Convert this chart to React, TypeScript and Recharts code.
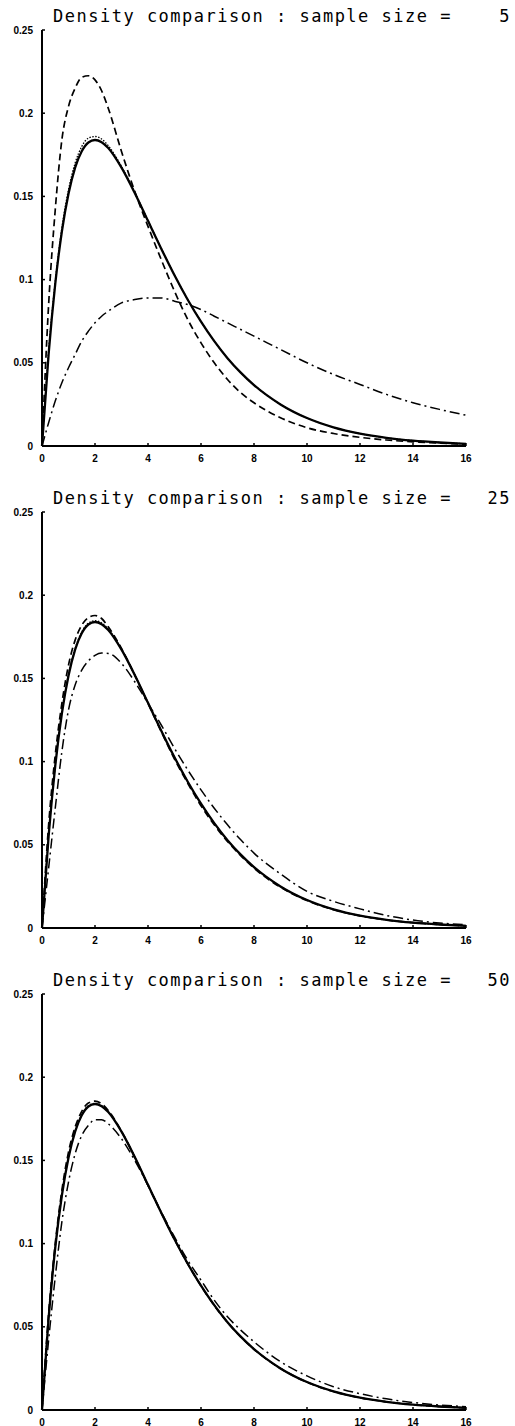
import React from 'react';
import { LineChart, Line, XAxis, YAxis } from 'recharts';

// shared x grid
const xValues = [0, 0.25, 0.5, 0.75, 1, 1.25, 1.5, 1.75, 2, 2.25, 2.5, 3, 3.5, 4, 4.5, 5, 5.5, 6, 6.5, 7, 7.5, 8, 9, 10, 11, 12, 13, 14, 15, 16];

// true density (solid), same in every panel
const trueDensity = [0, 0.0552, 0.0974, 0.1289, 0.1516, 0.1673, 0.1771, 0.1824, 0.1839, 0.1826, 0.1791, 0.1673, 0.1521, 0.1353, 0.1186, 0.1026, 0.0879, 0.0747, 0.063, 0.0528, 0.0441, 0.0366, 0.025, 0.0168, 0.0112, 0.0074, 0.0049, 0.0032, 0.0021, 0.0013];

// sample size 5
const n5Dotted = [0, 0.057, 0.099, 0.131, 0.154, 0.17, 0.18, 0.185, 0.186, 0.1845, 0.1805, 0.168, 0.1525, 0.1355, 0.1188, 0.1027, 0.088, 0.0748, 0.0631, 0.0528, 0.0441, 0.0366, 0.025, 0.0168, 0.0112, 0.0074, 0.0049, 0.0032, 0.0021, 0.0013];
const n5Dashed = [0, 0.085, 0.142, 0.184, 0.204, 0.215, 0.2215, 0.2225, 0.22, 0.2135, 0.203, 0.177, 0.153, 0.132, 0.112, 0.093, 0.076, 0.062, 0.05, 0.04, 0.032, 0.026, 0.017, 0.011, 0.0075, 0.0052, 0.0036, 0.0025, 0.0017, 0.0011];
const n5DashDot = [0, 0.014, 0.027, 0.038, 0.047, 0.055, 0.063, 0.069, 0.074, 0.078, 0.081, 0.086, 0.088, 0.089, 0.089, 0.087, 0.085, 0.082, 0.078, 0.074, 0.07, 0.066, 0.058, 0.05, 0.043, 0.037, 0.031, 0.026, 0.022, 0.0185];

// sample size 25
const n25Dotted = [0, 0.056, 0.098, 0.13, 0.1525, 0.168, 0.178, 0.1832, 0.1847, 0.1833, 0.1797, 0.1676, 0.1522, 0.1353, 0.1186, 0.1026, 0.0879, 0.0747, 0.063, 0.0528, 0.0441, 0.0366, 0.025, 0.0168, 0.0112, 0.0074, 0.0049, 0.0032, 0.0021, 0.0013];
const n25Dashed = [0, 0.062, 0.104, 0.135, 0.158, 0.173, 0.182, 0.1865, 0.1878, 0.186, 0.181, 0.168, 0.152, 0.135, 0.118, 0.1015, 0.087, 0.0735, 0.062, 0.052, 0.0435, 0.036, 0.0245, 0.0165, 0.011, 0.0073, 0.0048, 0.0032, 0.0021, 0.0013];
const n25DashDot = [0, 0.036, 0.072, 0.106, 0.131, 0.146, 0.155, 0.1605, 0.1638, 0.1652, 0.165, 0.159, 0.148, 0.135, 0.122, 0.108, 0.095, 0.083, 0.072, 0.062, 0.053, 0.045, 0.0325, 0.022, 0.016, 0.0115, 0.0075, 0.0048, 0.003, 0.002];

// sample size 50
const n50Dotted = [0, 0.0555, 0.0978, 0.1294, 0.152, 0.1677, 0.1775, 0.1828, 0.1843, 0.1829, 0.1793, 0.1674, 0.1521, 0.1353, 0.1186, 0.1026, 0.0879, 0.0747, 0.063, 0.0528, 0.0441, 0.0366, 0.025, 0.0168, 0.0112, 0.0074, 0.0049, 0.0032, 0.0021, 0.0013];
const n50Dashed = [0, 0.058, 0.1, 0.132, 0.155, 0.17, 0.1795, 0.1845, 0.1856, 0.184, 0.18, 0.1675, 0.152, 0.135, 0.1185, 0.1025, 0.0878, 0.0745, 0.0628, 0.0526, 0.044, 0.0365, 0.0249, 0.0167, 0.0111, 0.0074, 0.0049, 0.0032, 0.0021, 0.0013];
const n50DashDot = [0, 0.042, 0.08, 0.113, 0.137, 0.154, 0.165, 0.171, 0.1745, 0.1745, 0.172, 0.163, 0.15, 0.135, 0.119, 0.104, 0.09, 0.078, 0.066, 0.056, 0.048, 0.041, 0.029, 0.0205, 0.014, 0.0098, 0.0067, 0.0045, 0.003, 0.002];

const sampleSizes = [5, 25, 50];
const dottedSeries = [n5Dotted, n25Dotted, n50Dotted];
const dashedSeries = [n5Dashed, n25Dashed, n50Dashed];
const dashDotSeries = [n5DashDot, n25DashDot, n50DashDot];

const xTicks = [0, 2, 4, 6, 8, 10, 12, 14, 16];
const yTicks = [0, 0.05, 0.1, 0.15, 0.2, 0.25];

const PANEL_W = 515;
const PANEL_H = 482;
const tickFont = { fontFamily: '"Liberation Sans", Arial, sans-serif', fontWeight: 700, fontSize: 10, fill: '#000' };
const titleFont = { fontFamily: '"DejaVu Sans Mono", monospace', fontSize: 17, letterSpacing: 1.5, fill: '#000' };

const YTick = (props: any) => {
  const { x, y, payload } = props;
  return (
    <g>
      <line x1={x + 9} x2={x + 12} y1={y} y2={y} stroke="#000" strokeWidth={1.5} />
      <text x={x} y={y} dy={3.5} textAnchor="end" {...tickFont}>{String(payload.value)}</text>
    </g>
  );
};

const XTick = (props: any) => {
  const { x, y, payload } = props;
  return (
    <g>
      <line x1={x} x2={x} y1={y} y2={y - 3} stroke="#000" strokeWidth={1.5} />
      <text x={x} y={y + 16} textAnchor="middle" {...tickFont}>{String(payload.value)}</text>
    </g>
  );
};

const Panel = ({ idx }: { idx: number }) => {
  const rows = xValues.map((x, i) => ({
    x,
    truth: trueDensity[i],
    dotted: dottedSeries[idx][i],
    dashed: dashedSeries[idx][i],
    dashdot: dashDotSeries[idx][i],
  }));

  return (
    <div style={{ position: 'relative', width: PANEL_W, height: PANEL_H }}>
      <LineChart width={PANEL_W} height={PANEL_H} data={rows} margin={{ top: 30, right: 49, bottom: 16, left: 0 }}>
        <XAxis
          dataKey="x"
          type="number"
          domain={[0, 16]}
          ticks={xTicks}
          interval={0}
          height={20}
          tickSize={0}
          tickMargin={0}
          tick={<XTick />}
          axisLine={{ stroke: '#000', strokeWidth: 2 }}
        />
        <YAxis
          type="number"
          domain={[0, 0.25]}
          ticks={yTicks}
          interval={0}
          width={42}
          tickSize={0}
          tickMargin={9}
          tick={<YTick />}
          axisLine={{ stroke: '#000', strokeWidth: 2 }}
        />
        <Line type="monotone" dataKey="dashdot" stroke="#000" strokeWidth={1.5} strokeDasharray="10 4 2 4" dot={false} isAnimationActive={false} />
        <Line type="monotone" dataKey="dashed" stroke="#000" strokeWidth={1.7} strokeDasharray="7 4" dot={false} isAnimationActive={false} />
        <Line type="monotone" dataKey="truth" stroke="#000" strokeWidth={2.3} dot={false} isAnimationActive={false} />
        <Line type="monotone" dataKey="dotted" stroke="#000" strokeWidth={1.3} strokeDasharray="1.5 1.5" dot={false} isAnimationActive={false} />
      </LineChart>
      <svg width={PANEL_W} height={30} style={{ position: 'absolute', left: 0, top: 0 }}>
        <text x={53} y={22} {...titleFont}>
          Density comparison : sample size =
        </text>
        <text x={511} y={22} textAnchor="end" {...titleFont}>
          {sampleSizes[idx]}
        </text>
      </svg>
    </div>
  );
};

export default function App() {
  return (
    <div style={{ position: 'absolute', left: 0, top: 0, width: PANEL_W, background: '#fff' }}>
      {sampleSizes.map((_, i) => (
        <Panel key={i} idx={i} />
      ))}
    </div>
  );
}
